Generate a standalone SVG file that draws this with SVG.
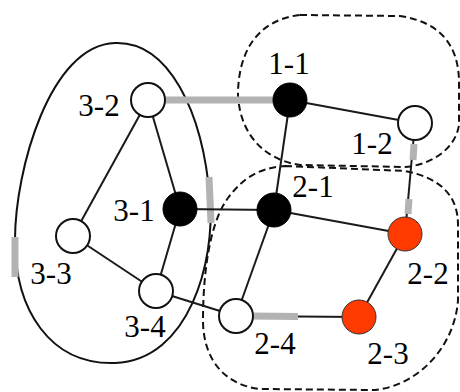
<svg xmlns="http://www.w3.org/2000/svg" width="460" height="392" viewBox="0 0 460 392">
<style>
.grp{fill:none;stroke:#111;stroke-width:2}
.dash{stroke-dasharray:7,4}
.e{stroke:#1a1a1a;stroke-width:2;fill:none}
.g{stroke:#b3b3b3;stroke-width:7;fill:none}
.wn{fill:#fff;stroke:#111;stroke-width:2}
.bn{fill:#000;stroke:#000;stroke-width:1}
.rn{fill:#ff3a00;stroke:#333;stroke-width:1}
text{font-family:"Liberation Serif","Times New Roman",serif;font-size:31px;fill:#000;text-anchor:middle}
</style>
<rect width="460" height="392" fill="#fff"/>
<g id="groups">
<path id="group3" class="grp" d="M115,43 C168,41 203,110 210,200 C215,260 190,360 115,363 C50,365 15,310 15,240 C15,170 50,45 115,43 Z"/>
<path id="group1" class="grp dash" d="M300,15 L400,16 C440,22 458,45 459,80 L459,125 C455,150 430,165 405,167 L300,165 C265,160 240,135 238,95 C238,55 255,20 300,15 Z"/>
<path id="group2" class="grp dash" d="M285,166 L405,171 C440,178 458,195 458,225 L458,300 C455,345 420,385 375,390 L260,389 C225,385 203,360 203,320 C203,280 208,225 228,198 C240,182 255,168 285,166 Z"/>
<path class="g" d="M209,177 L211,223"/>
<path class="g" d="M15,237 L15,277" />
</g>
<g id="connectors">
<line class="g" x1="148" y1="100" x2="290" y2="100"/>
<line class="e" x1="290" y1="100" x2="415" y2="123"/>
<line class="e" x1="290" y1="100" x2="274" y2="210"/>
<line class="e" x1="415" y1="123" x2="405" y2="234"/>
<line class="g" x1="414" y1="144" x2="413" y2="160"/>
<line class="g" x1="409" y1="199" x2="408" y2="214"/>
<line class="e" x1="148" y1="100" x2="180" y2="209"/>
<line class="e" x1="148" y1="100" x2="73" y2="236"/>
<line class="e" x1="73" y1="236" x2="156" y2="291"/>
<line class="e" x1="180" y1="209" x2="156" y2="291"/>
<line class="e" x1="180" y1="209" x2="274" y2="210"/>
<line class="e" x1="274" y1="210" x2="405" y2="234"/>
<line class="e" x1="274" y1="210" x2="236" y2="316"/>
<line class="e" x1="405" y1="234" x2="359" y2="317"/>
<line class="e" x1="236" y1="316" x2="359" y2="317"/>
<line class="g" x1="250" y1="316" x2="298" y2="316.5"/>
<line class="e" x1="156" y1="291" x2="236" y2="316"/>
</g>
<g id="n1-1"><circle class="bn" cx="290" cy="100" r="17"/><text x="289" y="74">1-1</text></g>
<g id="n1-2"><circle class="wn" cx="415" cy="123" r="17"/><text x="372" y="154">1-2</text></g>
<g id="n3-2"><circle class="wn" cx="148" cy="100" r="17"/><text x="99" y="116">3-2</text></g>
<g id="n3-1"><circle class="bn" cx="180" cy="209" r="17"/><text x="134" y="221">3-1</text></g>
<g id="n2-1"><circle class="bn" cx="274" cy="210" r="17"/><text x="313" y="197">2-1</text></g>
<g id="n3-3"><circle class="wn" cx="73" cy="236" r="17"/><text x="51" y="284">3-3</text></g>
<g id="n3-4"><circle class="wn" cx="156" cy="291" r="17"/><text x="145" y="337">3-4</text></g>
<g id="n2-2"><circle class="rn" cx="405" cy="234" r="17"/><text x="428" y="284">2-2</text></g>
<g id="n2-3"><circle class="rn" cx="359" cy="317" r="17"/><text x="388" y="364">2-3</text></g>
<g id="n2-4"><circle class="wn" cx="236" cy="316" r="17"/><text x="275" y="354">2-4</text></g>
</svg>
